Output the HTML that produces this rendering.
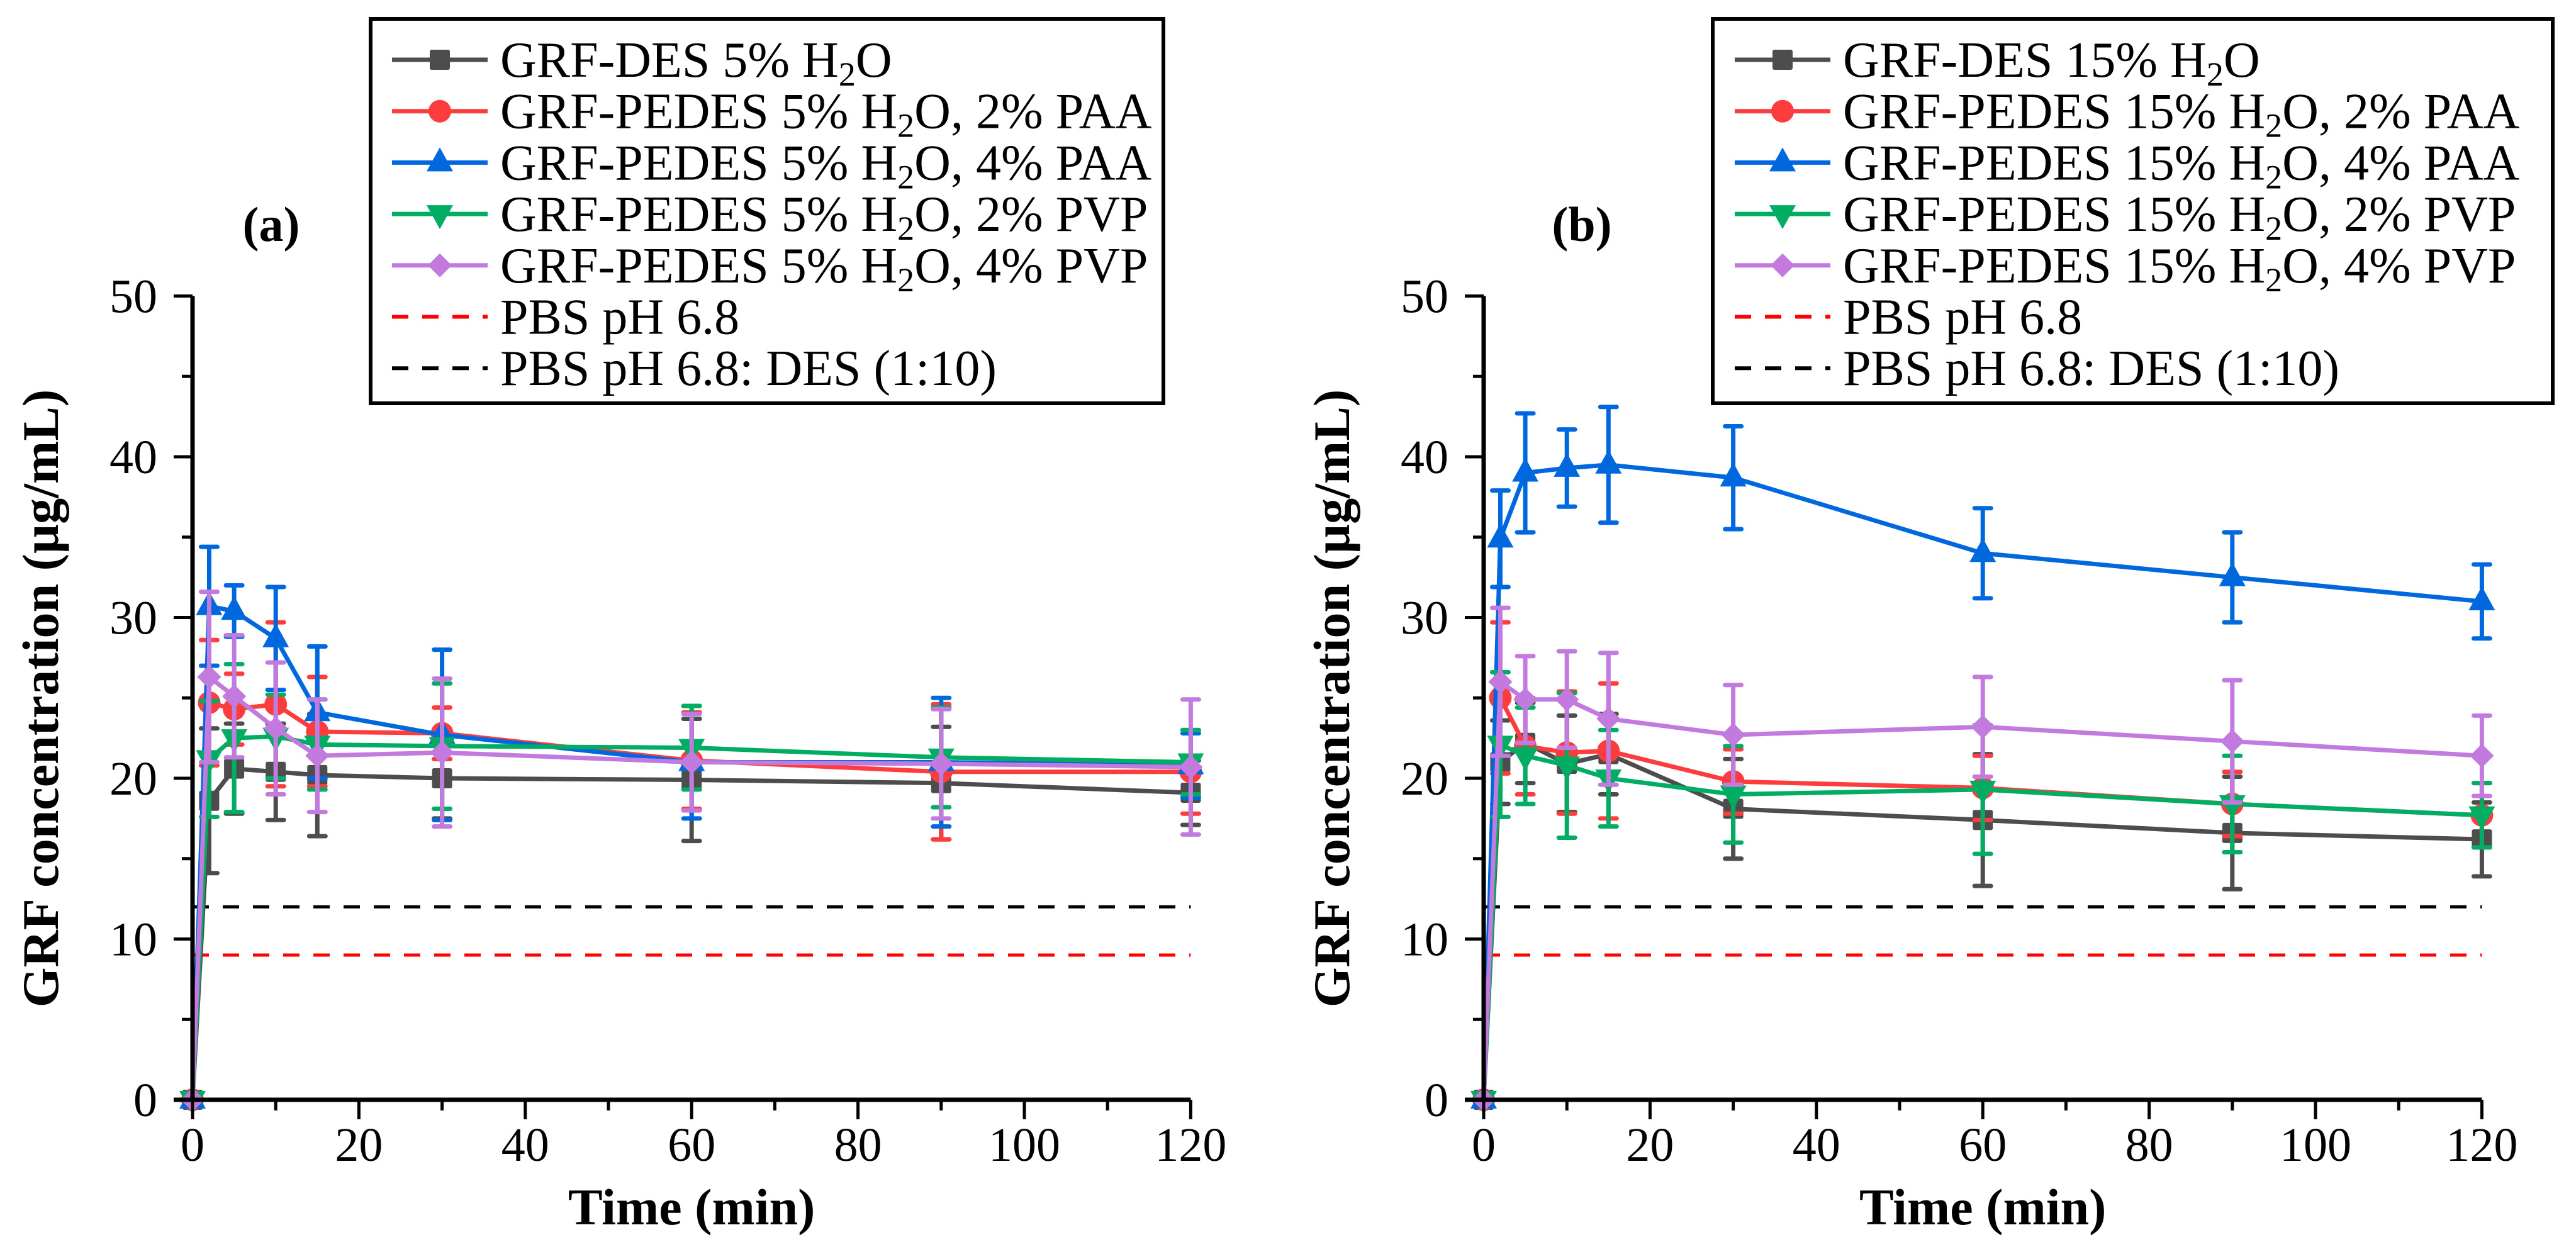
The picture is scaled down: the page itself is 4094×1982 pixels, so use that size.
<!DOCTYPE html>
<html><head><meta charset="utf-8"><style>
html,body{margin:0;padding:0;background:#fff;}
svg{display:block;font-family:"Liberation Serif",serif;}
</style></head><body>
<svg id="chart" width="4094" height="1982" viewBox="0 0 4094 1982" xmlns="http://www.w3.org/2000/svg"></svg>
<script>
const times = [0, 2, 5, 10, 15, 30, 60, 90, 120];
const xTicks = [0, 20, 40, 60, 80, 100, 120];
const yTicks = [0, 10, 20, 30, 40, 50];
const pbsLevel = 9;
const pbsDesLevel = 12;
// Panel a
const aGray   = [0, 18.6, 20.6, 20.4, 20.2, 20.0, 19.9, 19.7, 19.1];
const aRed    = [0, 24.7, 24.3, 24.6, 22.9, 22.8, 21.1, 20.4, 20.4];
const aBlue   = [0, 30.7, 30.4, 28.7, 24.1, 22.7, 21.0, 21.0, 20.8];
const aGreen  = [0, 21.2, 22.5, 22.6, 22.1, 22.0, 21.9, 21.3, 21.0];
const aPurple = [0, 26.3, 25.1, 23.1, 21.4, 21.6, 21.0, 20.9, 20.7];
const aGrayErr   = [0, 4.5, 2.8, 3.0, 3.8, 2.5, 3.8, 3.5, 2.0];
const aRedErr    = [0, 3.9, 2.2, 5.1, 3.4, 1.6, 3.0, 4.2, 2.6];
const aBlueErr   = [0, 3.7, 1.6, 3.2, 4.1, 5.3, 3.5, 4.0, 2.0];
const aGreenErr  = [0, 3.6, 4.6, 2.6, 2.8, 3.9, 2.6, 3.1, 2.0];
const aPurpleErr = [0, 5.3, 3.8, 4.1, 3.5, 4.6, 3.0, 3.4, 4.2];
// Panel b
const bGray   = [0, 21.0, 22.2, 20.9, 21.5, 18.1, 17.4, 16.6, 16.2];
const bRed    = [0, 25.0, 22.0, 21.6, 21.7, 19.8, 19.4, 18.4, 17.7];
const bBlue   = [0, 34.9, 39.0, 39.3, 39.5, 38.7, 34.0, 32.5, 31.0];
const bGreen  = [0, 22.1, 21.4, 20.8, 20.0, 19.0, 19.3, 18.4, 17.7];
const bPurple = [0, 26.0, 24.9, 24.9, 23.7, 22.7, 23.2, 22.3, 21.4];
const bGrayErr   = [0, 2.6, 2.5, 3.0, 2.5, 3.1, 4.1, 3.5, 2.3];
const bRedErr    = [0, 4.7, 3.0, 3.8, 4.2, 2.0, 2.0, 2.0, 2.0];
const bBlueErr   = [0, 3.0, 3.7, 2.4, 3.6, 3.2, 2.8, 2.8, 2.3];
const bGreenErr  = [0, 4.5, 3.0, 4.5, 3.0, 3.0, 4.0, 3.0, 2.0];
const bPurpleErr = [0, 4.6, 2.7, 3.0, 4.1, 3.1, 3.1, 3.8, 2.5];

const NS = "http://www.w3.org/2000/svg";
const svg = document.getElementById('chart');
function mk(tag, attrs, parent){
  const e = document.createElementNS(NS, tag);
  for (const k in attrs) e.setAttribute(k, attrs[k]);
  (parent||svg).appendChild(e);
  return e;
}
const COL = {gray:'#4d4d4d', red:'#fd3d3d', blue:'#0068de', green:'#00ad62', purple:'#c27ade'};
const Y0 = 1748, YPX = 25.55;
function yS(v){ return Y0 - v*YPX; }

function marker(g, shape, cx, cy, color){
  let m;
  if (shape==='square') m = mk('rect',{x:cx-16,y:cy-16,width:32,height:32,rx:3,fill:color},g);
  else if (shape==='circle') m = mk('circle',{cx:cx,cy:cy,r:18,fill:color},g);
  else if (shape==='up') m = mk('polygon',{points:`${cx},${cy-24} ${cx-21},${cy+14} ${cx+21},${cy+14}`,fill:color},g);
  else if (shape==='down') m = mk('polygon',{points:`${cx},${cy+24} ${cx-21},${cy-14} ${cx+21},${cy-14}`,fill:color},g);
  else m = mk('polygon',{points:`${cx},${cy-19} ${cx+19},${cy} ${cx},${cy+19} ${cx-19},${cy}`,fill:color},g);
  
  
  return m;
}

function panel(id, X0, label, labelX, series, legendBox, legendLabels){
  const xS = t => X0 + t*13.22;
  const g = mk('g',{});
  
  
  [[pbsLevel,'#ff0000','pbs-line'],[pbsDesLevel,'#000','pbs-des-line']].forEach(([v,c,n])=>{
    const l = mk('line',{x1:xS(0),x2:xS(120),y1:yS(v),y2:yS(v),stroke:c,'stroke-width':5,'stroke-dasharray':'26 22'},g);
    
    
  });
  series.forEach(s=>{
    const sg = mk('g',{},g);
    
    
    times.forEach((t,i)=>{
      if (!s.err[i]) return;
      const x = xS(t), yt = yS(s.vals[i]+s.err[i]), yb = yS(s.vals[i]-s.err[i]);
      const e = mk('path',{d:`M${x},${yt}V${yb}M${x-13},${yt}H${x+13}M${x-13},${yb}H${x+13}`,stroke:s.color,'stroke-width':7,'stroke-linecap':'round',fill:'none'},sg);
      
      
    });
    const pts = times.map((t,i)=>`${xS(t)},${yS(s.vals[i])}`).join(' ');
    const pl = mk('polyline',{points:pts,fill:'none',stroke:s.color,'stroke-width':7},sg);
    
    
    times.forEach((t,i)=>marker(sg,s.shape,xS(t),yS(s.vals[i]),s.color));
  });
  const ax = mk('path',{d:`M${X0},${yS(50)}V${Y0}M${X0-30},${Y0}H${xS(120)}`,stroke:'#000','stroke-width':7,fill:'none'},g);
  
  
  for (let v=0; v<=50; v+=5){
    const len = v%10===0?30:17;
    mk('line',{x1:X0-len,x2:X0,y1:yS(v),y2:yS(v),stroke:'#000','stroke-width':5},g);
  }
  yTicks.forEach(v=>{
    const t = mk('text',{x:X0-56,y:yS(v)+26,'text-anchor':'end','font-size':76},g);
    t.textContent = v;
    
    
  });
  for (let v=0; v<=120; v+=10){
    const len = v%20===0?31:17;
    mk('line',{x1:xS(v),x2:xS(v),y1:Y0,y2:Y0+len,stroke:'#000','stroke-width':5},g);
  }
  xTicks.forEach(v=>{
    const t = mk('text',{x:xS(v),y:1845,'text-anchor':'middle','font-size':76},g);
    t.textContent = v;
    
    
  });
  const xt = mk('text',{x:xS(60),y:1946,'text-anchor':'middle','font-size':82,'font-weight':'bold'},g);
  xt.textContent = 'Time (min)';
  
  
  const ytx = X0-214;
  const yt = mk('text',{x:ytx,y:1110,'text-anchor':'middle','font-size':82,'font-weight':'bold',transform:`rotate(-90 ${ytx} 1110)`},g);
  yt.textContent = 'GRF concentration (µg/mL)';
  
  
  const pl = mk('text',{x:labelX,y:383,'text-anchor':'middle','font-size':78,'font-weight':'bold'},g);
  pl.textContent = label;
  
  
  const lg = mk('g',{},g);
  
  
  const [lx,ly,lw,lh,sx] = legendBox;
  mk('rect',{x:lx,y:ly,width:lw,height:lh,fill:'#fff',stroke:'#000','stroke-width':6},lg);
  const rows = series.concat([{color:'#ff0000',dash:true},{color:'#000',dash:true}]);
  rows.forEach((s,i)=>{
    const cy = 95 + i*81.7;
    const e = mk('g',{},lg);
    
    
    if (s.dash) mk('line',{x1:sx,x2:sx+152,y1:cy,y2:cy,stroke:s.color,'stroke-width':6,'stroke-dasharray':'26 22'},e);
    else { mk('line',{x1:sx,x2:sx+152,y1:cy,y2:cy,stroke:s.color,'stroke-width':7},e); marker(e,s.shape,sx+76,cy,s.color); }
    const t = mk('text',{x:sx+172,y:cy+27,'font-size':80},e);
    t.innerHTML = legendLabels[i];
  });
}
const sub = '<tspan font-size="54" dy="14">2</tspan><tspan dy="-14">O</tspan>';
panel('a', 306, '(a)', 431, [
  {name:'gray',vals:aGray,err:aGrayErr,color:COL.gray,shape:'square'},
  {name:'red',vals:aRed,err:aRedErr,color:COL.red,shape:'circle'},
  {name:'blue',vals:aBlue,err:aBlueErr,color:COL.blue,shape:'up'},
  {name:'green',vals:aGreen,err:aGreenErr,color:COL.green,shape:'down'},
  {name:'purple',vals:aPurple,err:aPurpleErr,color:COL.purple,shape:'diamond'}
],[589,30,1260,611,623],[
  'GRF-DES 5% H'+sub, 'GRF-PEDES 5% H'+sub+', 2% PAA','GRF-PEDES 5% H'+sub+', 4% PAA',
  'GRF-PEDES 5% H'+sub+', 2% PVP','GRF-PEDES 5% H'+sub+', 4% PVP','PBS pH 6.8','PBS pH 6.8: DES (1:10)']);
panel('b', 2358, '(b)', 2514, [
  {name:'gray',vals:bGray,err:bGrayErr,color:COL.gray,shape:'square'},
  {name:'red',vals:bRed,err:bRedErr,color:COL.red,shape:'circle'},
  {name:'blue',vals:bBlue,err:bBlueErr,color:COL.blue,shape:'up'},
  {name:'green',vals:bGreen,err:bGreenErr,color:COL.green,shape:'down'},
  {name:'purple',vals:bPurple,err:bPurpleErr,color:COL.purple,shape:'diamond'}
],[2722,30,1335,611,2757],[
  'GRF-DES 15% H'+sub, 'GRF-PEDES 15% H'+sub+', 2% PAA','GRF-PEDES 15% H'+sub+', 4% PAA',
  'GRF-PEDES 15% H'+sub+', 2% PVP','GRF-PEDES 15% H'+sub+', 4% PVP','PBS pH 6.8','PBS pH 6.8: DES (1:10)']);
</script>
</body></html>
